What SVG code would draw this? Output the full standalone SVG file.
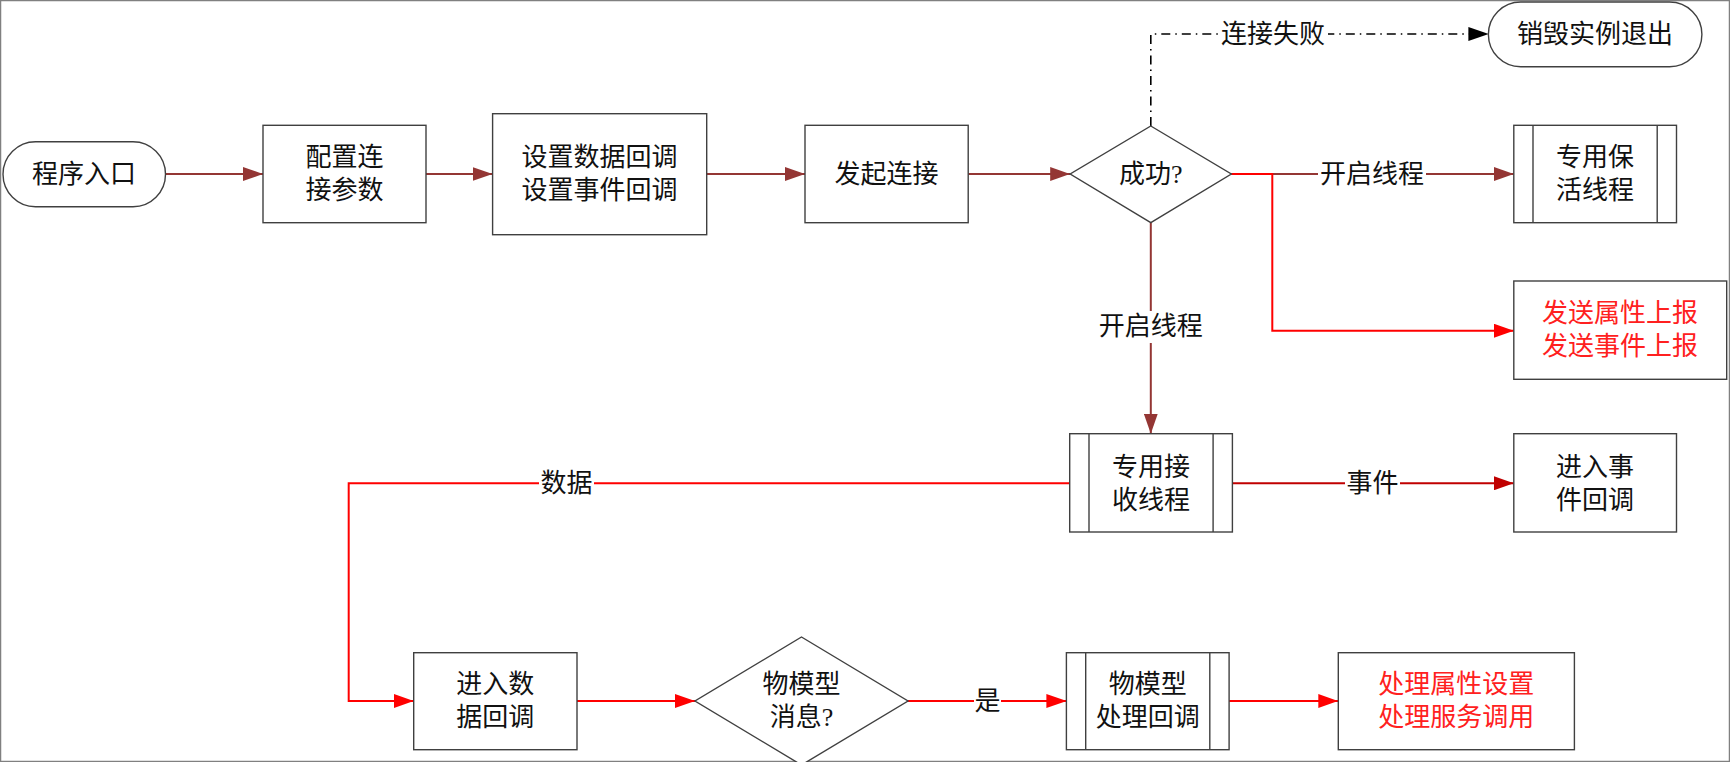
<svg xmlns="http://www.w3.org/2000/svg" width="1730" height="762" viewBox="0 0 1730 762">
<style>
text{font-family:"Liberation Serif","Noto Sans CJK SC",serif;font-size:26px;fill:#111;text-anchor:middle;dominant-baseline:central}
.red{fill:#FF2020}
.n{fill:#fff;stroke:#404040;stroke-width:1.4}
.c{fill:none;stroke-width:2}
.br{stroke:#943634}
.rd{stroke:#FF0000}
.dr{stroke:#C00000}
.bk{stroke:#000;stroke-width:1.6;stroke-dasharray:9 5 1.5 5}
.lb{fill:#fff;stroke:none}
</style>
<defs>
<marker id="aBr" markerWidth="20" markerHeight="14" refX="20" refY="7" orient="auto" markerUnits="userSpaceOnUse"><path d="M0,0 L20,7 L0,14 z" fill="#943634"/></marker>
<marker id="aRd" markerWidth="20" markerHeight="14" refX="20" refY="7" orient="auto" markerUnits="userSpaceOnUse"><path d="M0,0 L20,7 L0,14 z" fill="#FF0000"/></marker>
<marker id="aDr" markerWidth="20" markerHeight="14" refX="20" refY="7" orient="auto" markerUnits="userSpaceOnUse"><path d="M0,0 L20,7 L0,14 z" fill="#C00000"/></marker>
<marker id="aBk" markerWidth="20" markerHeight="14" refX="20" refY="7" orient="auto" markerUnits="userSpaceOnUse"><path d="M0,0 L20,7 L0,14 z" fill="#000"/></marker>
</defs>
<rect x="0.5" y="0.5" width="1729" height="761" fill="#fff" stroke="#808080" stroke-width="1.5"/>
<g id="connectors">
<path class="c br" d="M165.5 174 H263" marker-end="url(#aBr)"/>
<path class="c br" d="M426 174 H492.6" marker-end="url(#aBr)"/>
<path class="c br" d="M706.7 174 H805" marker-end="url(#aBr)"/>
<path class="c br" d="M968.2 174 H1070.2" marker-end="url(#aBr)"/>
<path class="c bk" d="M1150.8 126 V34 H1488.4" marker-end="url(#aBk)"/>
<path class="c br" d="M1231.3 174 H1513.8" marker-end="url(#aBr)"/>
<path class="c rd" d="M1231.3 174 H1272.3 V330.7 H1513.8" marker-end="url(#aRd)"/>
<path class="c br" d="M1150.8 222.7 V433.7" marker-end="url(#aBr)"/>
<path class="c dr" d="M1232.4 483.3 H1513.8" marker-end="url(#aDr)"/>
<path class="c rd" d="M1069.7 483.3 H348.7 V701 H413.7" marker-end="url(#aRd)"/>
<path class="c rd" d="M577 701 H695" marker-end="url(#aRd)"/>
<path class="c rd" d="M908 701 H1066.4" marker-end="url(#aRd)"/>
<path class="c rd" d="M1229.1 701 H1338.3" marker-end="url(#aRd)"/>
<rect class="lb" x="1218" y="18" width="110" height="32"/><text x="1273" y="34">连接失败</text>
<rect class="lb" x="1318" y="158" width="108" height="32"/><text x="1372" y="174">开启线程</text>
<rect class="lb" x="1097" y="311" width="108" height="32"/><text x="1150.8" y="326.7">开启线程</text>
<rect class="lb" x="1345" y="467" width="55" height="32"/><text x="1372.5" y="483.3">事件</text>
<rect class="lb" x="539" y="467" width="55" height="32"/><text x="566.6" y="483.3">数据</text>
<rect class="lb" x="974" y="685" width="27" height="32"/><text x="987.5" y="701">是</text>
</g>
<g id="start"><rect class="n" x="3" y="141.7" width="162.5" height="65" rx="32.5"/><text x="84" y="174">程序入口</text></g>
<g id="config"><rect class="n" x="263" y="125.3" width="163" height="97.4"/><text x="344.5" y="157">配置连</text><text x="344.5" y="190">接参数</text></g>
<g id="setcb"><rect class="n" x="492.6" y="113.7" width="214.1" height="121"/><text x="599.6" y="157">设置数据回调</text><text x="599.6" y="190">设置事件回调</text></g>
<g id="connect"><rect class="n" x="805" y="125.3" width="163.2" height="97.4"/><text x="886.6" y="174">发起连接</text></g>
<g id="success"><path class="n" d="M1150.8 126 L1231.3 174 L1150.8 222.7 L1070.2 174 Z"/><text x="1150.8" y="174">成功?</text></g>
<g id="destroy"><rect class="n" x="1488.4" y="2" width="213.5" height="64.7" rx="32.3"/><text x="1595" y="34">销毁实例退出</text></g>
<g id="keepalive"><rect class="n" x="1513.8" y="125.3" width="162.7" height="97.4"/><path class="n" d="M1533 125.3 V222.7 M1657.2 125.3 V222.7"/><text x="1595" y="157">专用保</text><text x="1595" y="190">活线程</text></g>
<g id="report"><rect class="n" x="1513.8" y="281" width="212.9" height="98.3"/><text class="red" x="1620" y="313.5">发送属性上报</text><text class="red" x="1620" y="346.5">发送事件上报</text></g>
<g id="recv"><rect class="n" x="1069.7" y="433.7" width="162.7" height="98.3"/><path class="n" d="M1089 433.7 V532 M1213.1 433.7 V532"/><text x="1151" y="467">专用接</text><text x="1151" y="500">收线程</text></g>
<g id="eventcb"><rect class="n" x="1513.8" y="433.7" width="162.7" height="98.3"/><text x="1595" y="467">进入事</text><text x="1595" y="500">件回调</text></g>
<g id="datacb"><rect class="n" x="413.7" y="652.7" width="163.3" height="97"/><text x="495.3" y="684.5">进入数</text><text x="495.3" y="717.5">据回调</text></g>
<g id="tsl"><path class="n" d="M801.5 637 L908 701 L801.5 765 L695 701 Z"/><text x="801.5" y="684.5">物模型</text><text x="801.5" y="717.5">消息?</text></g>
<g id="tslcb"><rect class="n" x="1066.4" y="652.7" width="162.7" height="97"/><path class="n" d="M1085.7 652.7 V749.7 M1209.8 652.7 V749.7"/><text x="1147.7" y="684.5">物模型</text><text x="1147.7" y="717.5">处理回调</text></g>
<g id="handle"><rect class="n" x="1338.3" y="652.7" width="236.1" height="97"/><text class="red" x="1456.3" y="684.5">处理属性设置</text><text class="red" x="1456.3" y="717.5">处理服务调用</text></g>
</svg>
